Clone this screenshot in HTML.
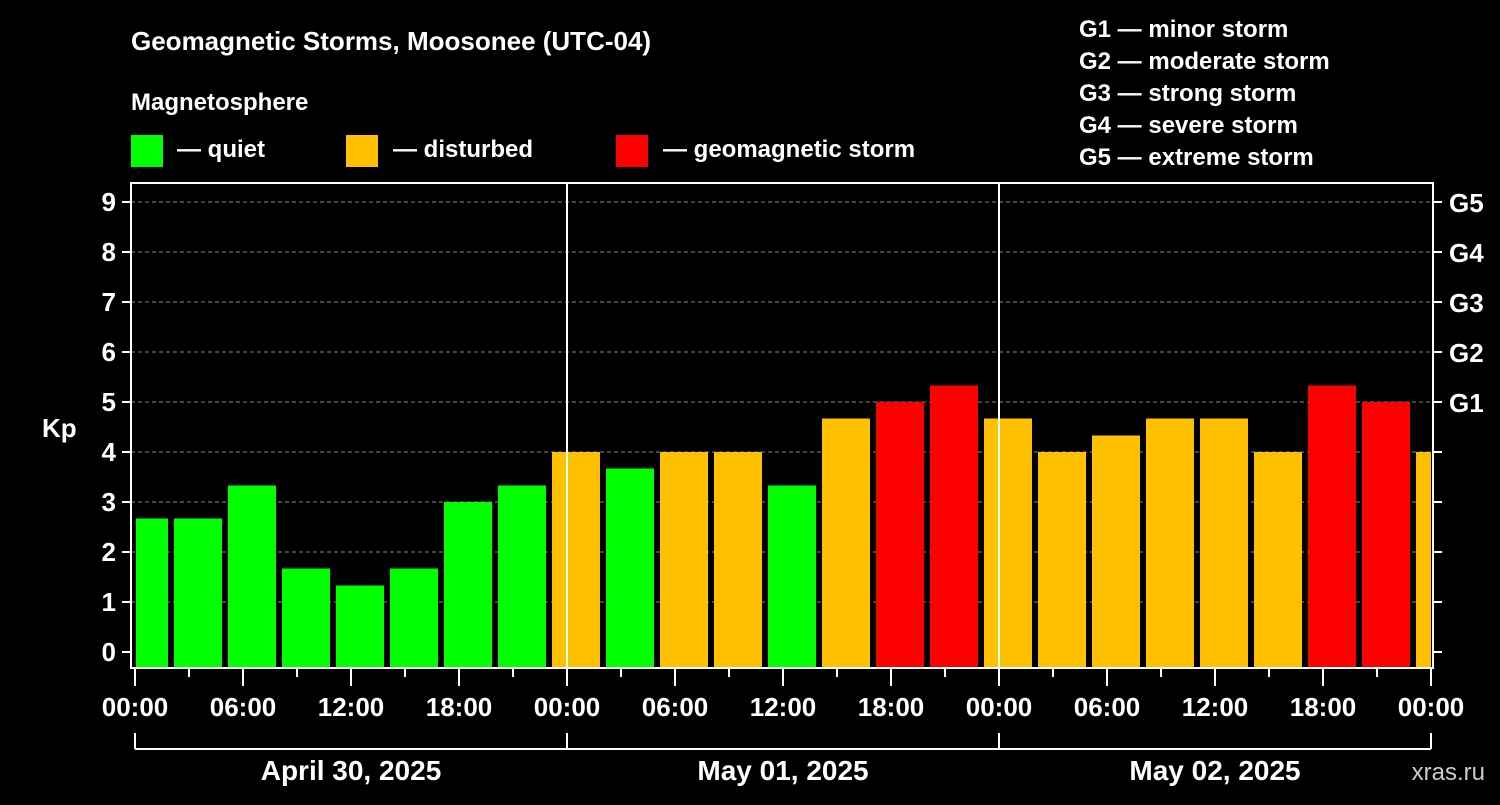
<!DOCTYPE html>
<html><head><meta charset="utf-8"><style>
body{margin:0;background:#000;width:1500px;height:800px;overflow:hidden}
svg text{font-family:"Liberation Sans",sans-serif;font-weight:bold;fill:#fff}
</style></head><body>
<svg id="c" width="1500" height="800">
<text x="131" y="50" font-size="26">Geomagnetic Storms, Moosonee (UTC-04)</text>
<text x="131" y="110" font-size="24">Magnetosphere</text>
<rect x="131" y="135" width="32" height="32" fill="#00ff00"/>
<text x="177" y="157" font-size="24">— quiet</text>
<rect x="346" y="135" width="32" height="32" fill="#ffc000"/>
<text x="393" y="157" font-size="24">— disturbed</text>
<rect x="616" y="135" width="32" height="32" fill="#ff0000"/>
<text x="663" y="157" font-size="24">— geomagnetic storm</text>
<g font-size="24">
<text x="1079" y="37">G1 — minor storm</text>
<text x="1079" y="69">G2 — moderate storm</text>
<text x="1079" y="101">G3 — strong storm</text>
<text x="1079" y="133">G4 — severe storm</text>
<text x="1079" y="165">G5 — extreme storm</text>
</g>
<text x="42" y="437" font-size="26">Kp</text>
<text x="1485" y="780" font-size="24" text-anchor="end" fill="#ccc" style="fill:#ccc;font-weight:normal">xras.ru</text>
<g id="grid"></g><g id="bars"></g><g id="axes"></g>
</svg>
<script>
const values=[2.67,2.67,3.33,1.67,1.33,1.67,3,3.33,4,3.67,4,4,3.33,4.67,5,5.33,4.67,4,4.33,4.67,4.67,4,5.33,5,4];
const yTicks=[0,1,2,3,4,5,6,7,8,9];
const gLabels={5:"G1",6:"G2",7:"G3",8:"G4",9:"G5"};
const xLabels=["00:00","06:00","12:00","18:00","00:00","06:00","12:00","18:00","00:00","06:00","12:00","18:00","00:00"];
const dates=["April 30, 2025","May 01, 2025","May 02, 2025"];
const NS="http://www.w3.org/2000/svg";
const L=131,R=1433,T=183,B=668,X0=135,DAY=432;
const y=v=>652-50*v;
const xh=h=>X0+h*DAY/24;
function mk(p,tag,a){const e=document.createElementNS(NS,tag);for(const k in a)e.setAttribute(k,a[k]);p.appendChild(e);return e;}
const grid=document.getElementById('grid'),bars=document.getElementById('bars'),axes=document.getElementById('axes');
yTicks.forEach(v=>{if(v>0){const g=mk(grid,'line',{x1:L,x2:R,y1:y(v),y2:y(v),stroke:'#888','stroke-dasharray':'4,3'});

}});
values.forEach((v,i)=>{let x1=Math.max(xh(3*i)-15,L+5),x2=Math.min(xh(3*i)+33,R-2);
const c=v>=5?'#ff0000':v>=4?'#ffc000':'#00ff00';
const r=mk(bars,'rect',{x:x1,y:y(v),width:x2-x1,height:B-y(v),fill:c});

});
const f=mk(axes,'rect',{x:L,y:T,width:R-L,height:B-T,fill:'none',stroke:'#fff','stroke-width':2});


[1,2].forEach(d=>{const l=mk(axes,'line',{x1:xh(24*d),x2:xh(24*d),y1:T,y2:B,stroke:'#fff','stroke-width':2});

});
yTicks.forEach(v=>{mk(axes,'line',{x1:L-9,x2:L,y1:y(v),y2:y(v),stroke:'#fff','stroke-width':2});
mk(axes,'line',{x1:R,x2:R+9,y1:y(v),y2:y(v),stroke:'#fff','stroke-width':2});
const t=mk(axes,'text',{x:116,y:y(v)+9,'font-size':26,'text-anchor':'end'});t.textContent=v;


if(gLabels[v]){const g=mk(axes,'text',{x:1449,y:y(v)+10,'font-size':26});g.textContent=gLabels[v];

}});
for(let h=0;h<=72;h+=3){const maj=h%6==0;mk(axes,'line',{x1:xh(h),x2:xh(h),y1:B,y2:B+(maj?18:9),stroke:'#fff','stroke-width':2});}
xLabels.forEach((s,i)=>{const t=mk(axes,'text',{x:xh(6*i),y:716,'font-size':26,'text-anchor':'middle'});t.textContent=s;

});
mk(axes,'line',{x1:X0,x2:xh(72),y1:749,y2:749,stroke:'#fff','stroke-width':2});
for(let d=0;d<=3;d++)mk(axes,'line',{x1:xh(24*d),x2:xh(24*d),y1:733,y2:749,stroke:'#fff','stroke-width':2});
dates.forEach((s,i)=>{const t=mk(axes,'text',{x:xh(24*i+12),y:780,'font-size':28,'text-anchor':'middle'});t.textContent=s;

});
</script>
</body></html>
